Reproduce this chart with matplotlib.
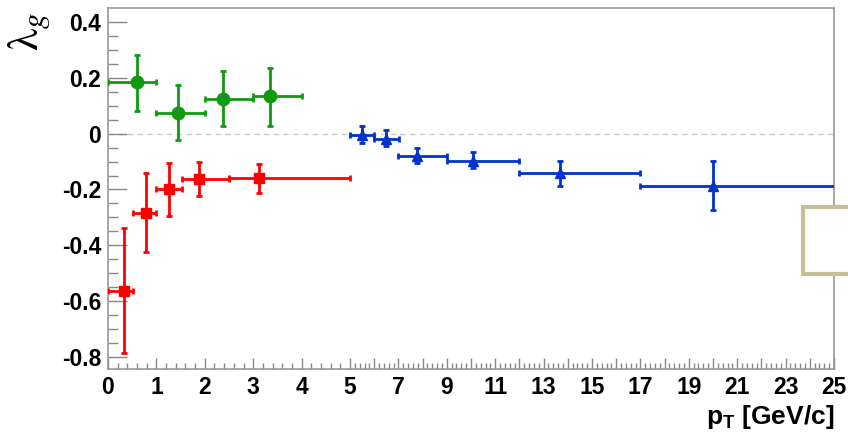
import numpy as np
import matplotlib
matplotlib.use("Agg")
import matplotlib.pyplot as plt
from matplotlib.patches import Rectangle

plt.rcParams['font.family'] = ['Liberation Sans', 'DejaVu Sans']
plt.rcParams['axes.unicode_minus'] = False
plt.rcParams['mathtext.fontset'] = 'custom'
plt.rcParams['mathtext.rm'] = 'Liberation Sans:bold'
plt.rcParams['mathtext.default'] = 'rm'

# green circles
g_x = [0.59, 1.45, 2.38, 3.35]
g_xlo = [0.59, 0.45, 0.38, 0.35]
g_xhi = [0.41, 0.55, 0.62, 0.65]
g_y = [0.185, 0.074, 0.126, 0.135]
g_ylo = [0.105, 0.098, 0.100, 0.106]
g_yhi = [0.096, 0.102, 0.099, 0.101]

# red squares
r_x = [0.34, 0.785, 1.26, 1.89, 3.11]
r_xlo = [0.34, 0.275, 0.26, 0.37, 0.60]
r_xhi = [0.17, 0.215, 0.26, 0.62, 1.89]
r_y = [-0.563, -0.284, -0.200, -0.164, -0.158]
r_ylo = [0.223, 0.141, 0.096, 0.060, 0.054]
r_yhi = [0.224, 0.144, 0.095, 0.062, 0.050]

# blue triangles
b_x = [5.48, 6.49, 7.78, 10.07, 13.68, 19.99]
b_xlo = [0.48, 0.49, 0.78, 1.07, 1.68, 2.99]
b_xhi = [0.52, 0.53, 1.22, 1.93, 3.32, 6.0]
b_y = [-0.006, -0.018, -0.080, -0.096, -0.141, -0.189]
b_ylo = [0.028, 0.027, 0.024, 0.028, 0.045, 0.083]
b_yhi = [0.032, 0.033, 0.030, 0.030, 0.043, 0.091]

xtick_vals = [0, 1, 2, 3, 4, 5, 6, 7, 8, 9, 10, 11, 12, 13, 14, 15, 16, 17, 18, 19, 20, 21, 22, 23, 24, 25]
xtick_labels = ['0', '1', '2', '3', '4', '5', '', '7', '', '9', '', '11', '', '13', '', '15', '',
                '17', '', '19', '', '21', '', '23', '', '25']
ytick_vals = [-0.8, -0.6, -0.4, -0.2, 0, 0.2, 0.4]
ytick_labels = ['-0.8', '-0.6', '-0.4', '-0.2', '0', '0.2', '0.4']


def fwd(x):
    x = np.asarray(x, dtype=float)
    return np.where(x <= 5, x, 5 + (x - 5) / 2)


def inv(u):
    u = np.asarray(u, dtype=float)
    return np.where(u <= 5, u, 5 + (u - 5) * 2)


fig = plt.figure(figsize=(8.48, 4.33), dpi=100)
ax = fig.add_axes([108 / 848, 1 - 369.3 / 433, (834 - 108) / 848, (369.3 - 8.3) / 433])
ax.set_xscale('function', functions=(fwd, inv))
ax.set_xlim(0, 25)
ax.set_ylim(-0.845, 0.45)

ax.axhline(0, color='#cccccc', lw=1, ls=(0, (4, 3)), zorder=1)

kw = dict(ls='none', lw=2, elinewidth=2, capsize=2.5, capthick=2, zorder=3)
ax.errorbar(g_x, g_y, xerr=[g_xlo, g_xhi], yerr=[g_ylo, g_yhi], fmt='o', color='#119911', ms=9, **kw)
ax.errorbar(r_x, r_y, xerr=[r_xlo, r_xhi], yerr=[r_ylo, r_yhi], fmt='s', color='#ff0000', ms=7, **kw)
ax.errorbar(b_x, b_y, xerr=[b_xlo, b_xhi], yerr=[b_ylo, b_yhi], fmt='^', color='#0033cc', ms=7.5, **kw)

ax.set_xticks(xtick_vals)
ax.set_xticklabels(xtick_labels)
minor_x = [v for v in np.round(np.arange(0, 25, 0.2), 2) if v not in xtick_vals]
ax.set_xticks(minor_x, minor=True)
ax.set_yticks(ytick_vals)
ax.set_yticklabels(ytick_labels)
ax.set_yticks(np.round(np.arange(-0.80, 0.45, 0.05), 2), minor=True)

for s in ax.spines.values():
    s.set_color('#999999')
    s.set_linewidth(1.2)
ax.tick_params(axis='both', which='both', direction='in', color='#888888', labelsize=16.5)
ax.tick_params(axis='x', which='major', length=8, width=1, pad=5)
ax.tick_params(axis='x', which='minor', length=4, width=1)
ax.tick_params(axis='y', which='major', length=14, width=1, pad=5)
ax.tick_params(axis='y', which='minor', length=7, width=1)
for lab in ax.get_xticklabels() + ax.get_yticklabels():
    lab.set_fontweight('bold')

ax.set_xlabel(r'p$_{\mathrm{T}}$ [GeV/c]', loc='right', fontsize=19, fontweight='bold')
ax.xaxis.set_label_coords(1.0, -0.094)

fig.text(0.034, 0.928, r'$\lambda_{\mathit{g}}$', rotation=90, ha='center', va='center',
         fontsize=32, fontweight='normal', math_fontfamily='stix')

fig.add_artist(Rectangle((803 / 848, 1 - 274 / 433), 0.1, 67 / 433, transform=fig.transFigure,
                         facecolor='white', edgecolor='#c8bf9a', lw=3, zorder=10))

fig.savefig('out.png', dpi=100)
